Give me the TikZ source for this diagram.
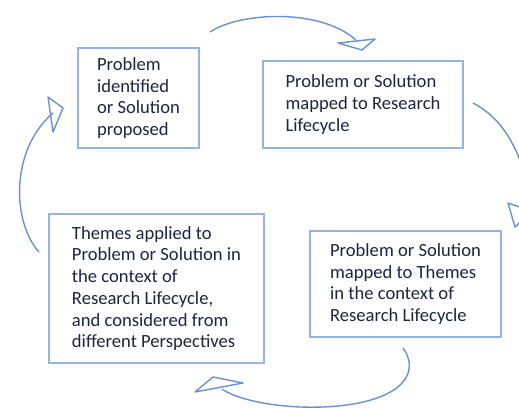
\documentclass[tikz,border=0pt]{standalone}
\usepackage{fontspec}
\setmainfont{Carlito}
\usepackage{tikz}
\definecolor{cycleblue}{RGB}{104,146,204}
\definecolor{boxblue}{RGB}{150,180,222}
\definecolor{textnavy}{RGB}{28,38,62}
\tikzstyle{stage}=[%
	draw=boxblue, line width=1.3pt, rectangle, inner xsep=0pt, inner ysep=0pt,
	align=left, text=textnavy, anchor=center,
	font=\fontsize{18.6}{21.7}\selectfont%
]
\tikzstyle{turn}=[%
	draw=cycleblue, line width=1.4pt, line join=round%
]

\begin{document}
\begin{tikzpicture}[x=1pt, y=-1pt]
	\useasboundingbox (0,0) rectangle (519,407);
	\clip (0,0) rectangle (519,407);
	\fill[white] (0,0) rectangle (519,407);

	\node[stage, minimum width=121pt, minimum height=100pt] (identified) at (138.5,98) {%
		Problem\\ identified\\ or Solution\\ proposed};
	\node[stage, minimum width=200pt, minimum height=87pt] (lifecycle) at (363,104.5) {%
		Problem or Solution\\ mapped to Research\\ Lifecycle};
	\node[stage, minimum width=191pt, minimum height=106pt] (themes) at (405.5,284) {%
		Problem or Solution\\ mapped to Themes\\ in the context of\\ Research Lifecycle};
	\node[stage, minimum width=215pt, minimum height=149pt] (applied) at (156.5,288.5) {%
		Themes applied to\\ Problem or Solution in\\ the context of\\ Research Lifecycle,\\ and considered from\\ different Perspectives};

	% free ends of the cycle arrows
	\coordinate (a1) at (210,32);
	\coordinate (b1) at (356,40);
	\coordinate (a2) at (473,103);
	\coordinate (b2) at (530,195);
	\coordinate (a3) at (403,348);
	\coordinate (m3) at (350,404.5);
	\coordinate (b3) at (222,389);
	\coordinate (a4) at (39,252);
	\coordinate (b4) at (53,113);

	\draw[turn] (a1) .. controls (240,12) and (320,8) .. (b1);
	\draw[turn] (338,43) -- (375,39) -- (362,50) -- cycle;

	\draw[turn] (a2) .. controls (502,118) and (520,148) .. (b2);
	\draw[turn] (508,203) -- (515,227) -- (531,211) -- cycle;

	\draw[turn] (a3) .. controls (419,370) and (406,396) .. (m3)
		.. controls (300,412) and (242,403) .. (b3);
	\draw[turn] (195,392) -- (243,383) -- (213,377) -- cycle;

	\draw[turn] (a4) .. controls (12,222) and (10,150) .. (b4);
	\draw[turn] (48,97) -- (63,108) -- (53,132) -- cycle;
\end{tikzpicture}
\end{document}
